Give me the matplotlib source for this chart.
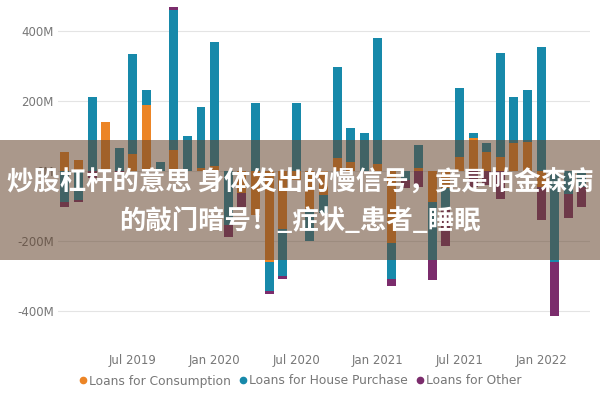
import numpy as np
import pandas as pd
import matplotlib
matplotlib.use("Agg")
import matplotlib.pyplot as plt
from matplotlib.patches import Rectangle
from matplotlib.lines import Line2D

# ---- data (millions) ----
months = [p.strftime("%b %Y") for p in pd.period_range("2019-02", "2022-04", freq="M")]
consumption = [55, 32, 0, 140, 0, 50, 188, 0, 60, 0, 10, 15, 0, -63, -125, -260, -165, -25,
               -110, -70, 37, 25, 0, 20, -205, 0, 10, -90, -50, 40, 95, 54, 40, 80, 83, -46,
               -10, 0, 0]
house = [-89, -83, 211, 0, 66, 284, 43, 25, 400, 100, 173, 354, -155, 0, 194, -83, -135, 194,
         -90, -50, 260, 98, 108, 360, -105, -25, 65, -165, -60, 197, 14, 26, 297, 131, 148, 354,
         -250, -65, -45]
other = [-14, -5, -20, 0, -12, 0, 0, 0, 8, 0, 0, 0, -35, -40, 0, -8, -10, 0, 0, 0, 0, 0, 0, 0,
         -20, -25, -45, -57, -105, 0, -45, -40, -80, 0, 0, -95, -155, -70, -57]
series_names = ["Loans for Consumption", "Loans for House Purchase", "Loans for Other"]
colors = ["#EC8526", "#1789AA", "#7B2C6C"]
ytick_vals = [-400, -200, 0, 200, 400]
ytick_labels = ["-400M", "-200M", "0M", "200M", "400M"]
xtick_labels = ["Jul 2019", "Jan 2020", "Jul 2020", "Jan 2021", "Jul 2021", "Jan 2022"]
title_lines = ["炒股杠杆的意思 身体发出的慢信号，竟是帕金森病", "的敲门暗号！_症状_患者_睡眠"]

fig = plt.figure(figsize=(6, 4), dpi=100)
ax = fig.add_axes([58 / 600, 65 / 400, 532 / 600, 335 / 400])

x = np.arange(len(months))
pos_b = np.zeros(len(months))
neg_b = np.zeros(len(months))
for vals, col in zip([consumption, house, other], colors):
    v = np.array(vals, dtype=float)
    b = np.where(v >= 0, pos_b, neg_b)
    ax.bar(x, v, bottom=b, width=0.66, color=col, zorder=3, linewidth=0)
    pos_b = pos_b + np.where(v > 0, v, 0)
    neg_b = neg_b + np.where(v < 0, v, 0)

ax.set_xlim(-0.51, len(months) - 1 + 0.59)
ax.set_ylim(-469, 489)
ax.set_yticks(ytick_vals)
ax.set_yticklabels(ytick_labels)
xt = [months.index(m) for m in xtick_labels]
ax.set_xticks(xt)
ax.set_xticklabels(xtick_labels)
ax.tick_params(axis="both", length=0, labelsize=8.5, labelcolor="#777777")
ax.tick_params(axis="x", pad=14)
ax.tick_params(axis="y", pad=3)
ax.grid(axis="y", color="#E4E4E4", linewidth=0.8, zorder=0)
ax.grid(axis="x", visible=False)
for s in ax.spines.values():
    s.set_visible(False)

handles = [Line2D([0], [0], marker="o", linestyle="", markersize=4.5, color=c) for c in colors]
leg = fig.legend(handles, series_names, loc="center", bbox_to_anchor=(0.5, 1 - 381 / 400),
                 ncol=3, frameon=False, fontsize=8.8, handletextpad=0.1, columnspacing=0.6,
                 handlelength=0.8, labelcolor="#777777")

# overlay banner
banner = Rectangle((0, 1 - 260 / 400), 1, 120 / 400, transform=fig.transFigure,
                   facecolor=(100 / 255, 68 / 255, 45 / 255), alpha=0.55, zorder=10,
                   linewidth=0)
fig.add_artist(banner)
for yy, line in zip([1 - 183 / 400, 1 - 221 / 400], title_lines):
    fig.text(0.5, yy, line, ha="center", va="center", color="white", fontsize=19,
             fontweight="bold", family=["Noto Sans CJK SC", "DejaVu Sans"], zorder=11)

fig.savefig("out.png", dpi=100)
